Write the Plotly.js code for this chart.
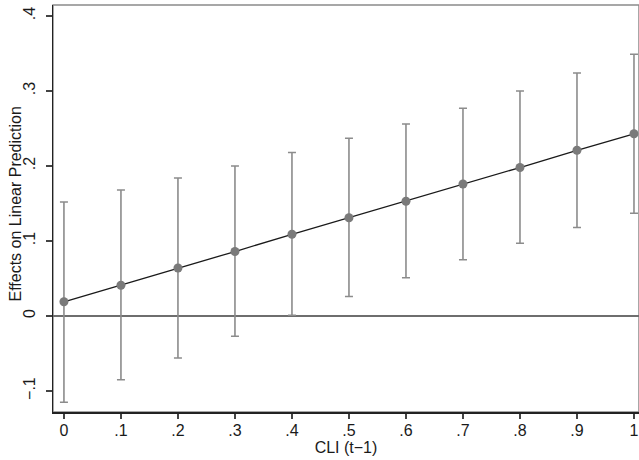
<!DOCTYPE html>
<html>
<head>
<meta charset="utf-8">
<script src="https://cdn.plot.ly/plotly-3.0.1.min.js"></script>
<style>html,body{margin:0;padding:0;background:#fff;}#chart{width:639px;height:460px;}</style>
</head>
<body>
<div id="chart"></div>
<script>
// Data
const cliValues = [0, 0.1, 0.2, 0.3, 0.4, 0.5, 0.6, 0.7, 0.8, 0.9, 1.0];
const effect    = [0.019, 0.041, 0.064, 0.086, 0.109, 0.131, 0.153, 0.176, 0.198, 0.221, 0.243];
const upperCI   = [0.152, 0.168, 0.184, 0.200, 0.218, 0.237, 0.256, 0.277, 0.300, 0.324, 0.349];
const lowerCI   = [-0.115, -0.085, -0.056, -0.027, 0.001, 0.026, 0.051, 0.075, 0.097, 0.118, 0.137];
const xTickVals = [0, 0.1, 0.2, 0.3, 0.4, 0.5, 0.6, 0.7, 0.8, 0.9, 1];
const xTickText = ['0', '.1', '.2', '.3', '.4', '.5', '.6', '.7', '.8', '.9', '1'];
const yTickVals = [-0.1, 0, 0.1, 0.2, 0.3, 0.4];
const yTickText = ['\u2212.1', '0', '.1', '.2', '.3', '.4'];
const yTitle = 'Effects on Linear Prediction';
const xTitle = 'CLI (t\u22121)';

const errPlus  = upperCI.map((u, i) => u - effect[i]);
const errMinus = lowerCI.map((l, i) => effect[i] - l);

const font = {family: 'Liberation Sans, Arial, sans-serif', size: 16, color: '#1a1a1a'};

const trace = {
  x: cliValues,
  y: effect,
  type: 'scatter',
  mode: 'lines+markers',
  line: {color: '#1a1a1a', width: 1.3},
  marker: {color: '#7a7a7a', size: 9},
  error_y: {
    type: 'data', symmetric: false,
    array: errPlus, arrayminus: errMinus,
    color: '#8c8c8c', thickness: 1.6, width: 4
  },
  hoverinfo: 'skip'
};

const layout = {
  width: 639, height: 460,
  margin: {l: 53, r: 0, t: 5, b: 48, pad: 0},
  paper_bgcolor: '#fff', plot_bgcolor: '#fff',
  font: font,
  showlegend: false,
  xaxis: {
    range: [-0.0192, 1.0088],
    tickvals: xTickVals, ticktext: xTickText,
    ticks: 'outside', ticklen: 5, tickwidth: 1.2, tickcolor: '#444',
    ticklabelstandoff: -2,
    showgrid: false, zeroline: false,
    showline: true, linecolor: '#222', linewidth: 1.5,
    tickfont: font,
    title: {text: xTitle, font: font, standoff: 2},
    automargin: false
  },
  yaxis: {
    range: [-0.128, 0.4147],
    tickvals: yTickVals, ticktext: yTickText,
    tickangle: -90,
    ticks: 'outside', ticklen: 6, tickwidth: 1.2, tickcolor: '#444',
    ticklabelstandoff: 4,
    showgrid: false,
    zeroline: true, zerolinecolor: '#6e6e6e', zerolinewidth: 1.6,
    showline: true, linecolor: '#222', linewidth: 1.5,
    tickfont: font,
    automargin: false
  },
  annotations: [{
    text: yTitle, font: font, textangle: -90,
    xref: 'paper', yref: 'paper', x: 0, y: 0.5,
    xanchor: 'center', yanchor: 'middle', xshift: -38, yshift: 4,
    showarrow: false
  }],
  shapes: [{
    type: 'rect', xref: 'paper', yref: 'paper', x0: 0, x1: 1, y0: 0, y1: 1,
    line: {color: '#8a8a8a', width: 1.5}, layer: 'below'
  }]
};

Plotly.newPlot('chart', [trace], layout, {staticPlot: true, displayModeBar: false});
</script>
</body>
</html>
